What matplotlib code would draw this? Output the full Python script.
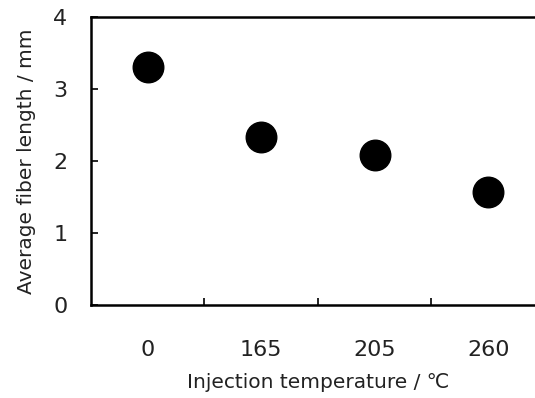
import matplotlib
matplotlib.use('Agg')
import matplotlib.pyplot as plt

plt.rcParams['font.family'] = ['DejaVu Sans']

# data
temperatures = ['0', '165', '205', '260']
fiber_length = [3.31, 2.33, 2.08, 1.57]
y_ticks = [0, 1, 2, 3, 4]

fig = plt.figure(figsize=(5.35, 3.98), dpi=100)
ax = fig.add_axes([0.170, 0.2337, 0.8486, 0.7236])

xpos = list(range(len(temperatures)))
ax.plot(xpos, fiber_length, 'o', color='black', markersize=22, linestyle='none')

ax.set_xlim(-0.5, len(temperatures) - 0.5)
ax.set_ylim(0, 4)

ax.spines['right'].set_visible(False)
for side in ['top', 'left', 'bottom']:
    ax.spines[side].set_linewidth(1.8)

ax.set_yticks(y_ticks)
ax.set_xticks(xpos)
ax.set_xticklabels(temperatures)
ax.set_xticks([p + 0.5 for p in xpos[:-1]], minor=True)

ax.tick_params(axis='y', direction='in', length=5, width=1.2, pad=17,
               labelsize=16, labelcolor='#222222')
ax.tick_params(axis='x', which='major', length=0, pad=25,
               labelsize=16, labelcolor='#222222')
ax.tick_params(axis='x', which='minor', direction='in', length=5, width=1.2)

ax.set_xlabel('Injection temperature / ℃', fontsize=14.5, color='#222222')
ax.set_ylabel('Average fiber length / mm', fontsize=14.5, color='#222222')
ax.xaxis.set_label_coords(0.5, -0.235)
ax.yaxis.set_label_coords(-0.122, 0.5)

fig.savefig('out.png', dpi=100)
